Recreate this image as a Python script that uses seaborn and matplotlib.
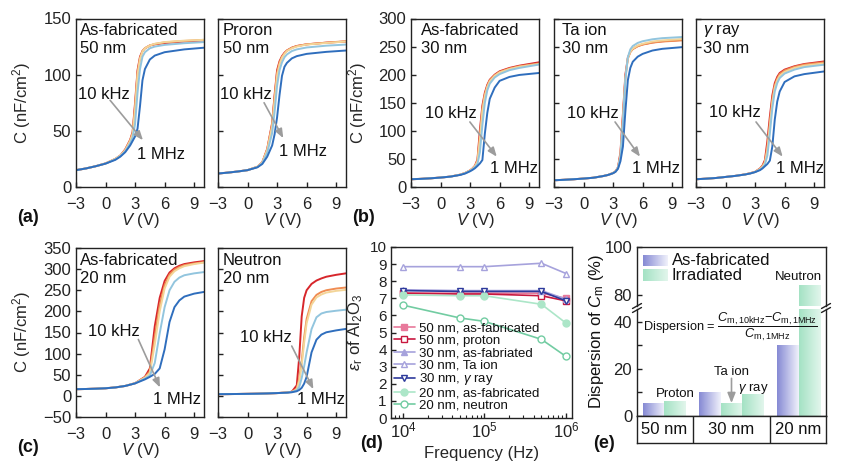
import numpy as np
import matplotlib
matplotlib.use("Agg")
import matplotlib.pyplot as plt
import seaborn as sns
from matplotlib.colors import LinearSegmentedColormap
from matplotlib.lines import Line2D

# ---------------- data ----------------
FREQ_LABELS = ['10 kHz', '50 kHz', '100 kHz', '500 kHz', '1 MHz']
CURVE_COLORS = ['#d7262b', '#f08c52', '#f3d598', '#92c5de', '#2f6ebd']

# (a) 50 nm
V_A = [-3, -2, -1, 0, 1, 1.5, 2, 2.5, 2.75, 3, 3.25, 3.5, 3.75, 4, 4.5, 5, 6, 8, 10]
A1_CURVES = {
    '10 kHz':  [15.0, 16.5, 18.5, 21.0, 25.0, 28.0, 33.5, 42.0, 49.0, 75.0, 104, 116, 121, 123.5, 126, 127, 128.2, 129.5, 130.5],
    '50 kHz':  [15.0, 16.5, 18.5, 21.0, 25.0, 28.0, 33.0, 41.5, 48.0, 72.0, 102, 115, 121, 123.5, 126, 127.3, 128.8, 130, 131],
    '100 kHz': [15.0, 16.5, 18.5, 21.0, 25.0, 28.0, 32.8, 41.0, 47.0, 69.0, 100, 114, 120.5, 123.5, 126, 127.5, 129, 130.3, 131],
    '500 kHz': [15.0, 16.5, 18.5, 20.9, 24.6, 27.5, 31.8, 39.0, 44.0, 56.0, 84, 105, 116, 120, 123.5, 125, 126.5, 128, 129],
    '1 MHz':   [15.0, 16.5, 18.5, 20.8, 24.2, 27.0, 31.0, 37.0, 41.0, 45.0, 52.0, 72.0, 95.0, 105, 113.5, 117, 120, 122.5, 124],
}
A2_CURVES = {
    '10 kHz':  [12.0, 12.8, 13.8, 15.0, 18.0, 22.0, 34.0, 57.0, 82.0, 104, 112, 116.5, 119.5, 121.5, 124, 125.5, 127, 128.5, 129.5],
    '50 kHz':  [12.0, 12.8, 13.8, 15.0, 18.0, 22.0, 33.5, 56.0, 80.0, 102, 111, 116, 119, 121.5, 124, 125.5, 127, 128.5, 129.8],
    '100 kHz': [12.0, 12.8, 13.8, 15.0, 18.0, 21.8, 33.0, 54.0, 77.0, 99, 109, 115, 118.5, 121, 123.5, 125, 126.8, 128.2, 129.5],
    '500 kHz': [12.0, 12.8, 13.8, 15.0, 17.8, 21.3, 30.5, 48.0, 67.0, 90, 104, 111, 115.5, 118, 121, 122.5, 124.2, 125.8, 126.8],
    '1 MHz':   [12.0, 12.8, 13.8, 15.0, 17.5, 20.5, 27.0, 37.0, 47.0, 62.0, 82.0, 99.0, 107, 110.5, 114.5, 116.5, 118.5, 120.3, 121.5],
}

# (b) 30 nm
V_B = [-3, -2, -1, 0, 1, 2, 2.5, 3, 3.25, 3.5, 3.75, 4, 4.25, 4.5, 4.75, 5, 5.5, 6, 7, 8, 10]
B1_CURVES = {
    '10 kHz':  [13.8, 14.5, 15.5, 16.8, 18.5, 22.0, 25.0, 29.5, 33.0, 38.0, 49.0, 102, 145, 168, 182, 191, 200, 206, 212, 216, 222],
    '50 kHz':  [13.8, 14.5, 15.5, 16.8, 18.5, 22.0, 25.0, 29.5, 33.0, 37.5, 47.0, 92, 140, 165, 180, 190, 199, 205, 211, 215, 220],
    '100 kHz': [13.8, 14.5, 15.5, 16.8, 18.5, 22.0, 25.0, 29.3, 32.5, 37.0, 45.0, 85, 135, 162, 178, 188, 198, 204, 210, 214, 219],
    '500 kHz': [13.8, 14.5, 15.5, 16.8, 18.5, 21.8, 24.6, 28.8, 31.8, 35.5, 41.0, 62, 110, 150, 172, 184, 195, 201, 208, 212, 218],
    '1 MHz':   [13.8, 14.5, 15.5, 16.8, 18.5, 21.5, 24.0, 28.0, 30.5, 33.5, 37.5, 42.0, 48.0, 95, 132, 157, 177, 189, 196, 199.5, 203],
}
B2_CURVES = {
    '10 kHz':  [12.0, 12.8, 13.8, 15.0, 16.5, 19.5, 21.5, 25.0, 28.0, 35.0, 62.0, 130, 200, 230, 241, 246, 251, 254, 257.5, 259.5, 262],
    '50 kHz':  [12.0, 12.8, 13.8, 15.0, 16.5, 19.5, 21.5, 25.0, 28.0, 34.5, 58.0, 124, 196, 229, 240, 245.5, 250.5, 253.5, 257, 259, 261],
    '100 kHz': [12.0, 12.8, 13.8, 15.0, 16.5, 19.5, 21.5, 25.0, 28.0, 34.0, 55.0, 118, 193, 229, 241, 246.5, 252, 255, 259, 261, 263.5],
    '500 kHz': [12.0, 12.8, 13.8, 15.0, 16.5, 19.5, 21.5, 24.8, 27.8, 34.0, 54.0, 115, 192, 231, 245, 251, 256.5, 259.5, 263, 265, 267],
    '1 MHz':   [12.0, 12.8, 13.8, 15.0, 16.5, 19.5, 21.5, 24.5, 27.0, 32.5, 46.0, 72.0, 135, 190, 212, 223, 232, 237, 243, 246, 249],
}
V_B3 = [-3, -2, -1, 0, 1, 2, 2.5, 3, 3.5, 3.75, 4, 4.25, 4.5, 4.75, 5, 5.25, 5.5, 6, 7, 8, 10]
B3_CURVES = {
    '10 kHz':  [13.8, 14.8, 16.0, 17.9, 19.8, 22.5, 24.5, 27.0, 33.0, 38.0, 48.0, 82.0, 125, 163, 185, 196, 203, 209, 215, 219, 223.5],
    '50 kHz':  [13.8, 14.8, 16.0, 17.9, 19.8, 22.5, 24.5, 27.0, 32.5, 37.0, 45.0, 72.0, 115, 156, 181, 193, 201, 207.5, 214, 218, 222],
    '100 kHz': [13.8, 14.8, 16.0, 17.9, 19.8, 22.4, 24.3, 26.8, 32.0, 36.0, 43.0, 66.0, 108, 150, 177, 190, 198, 205, 212, 216, 220],
    '500 kHz': [13.8, 14.8, 16.0, 17.9, 19.8, 22.4, 24.2, 26.6, 31.0, 34.5, 40.0, 56.0, 95, 140, 170, 185, 194, 202, 209, 213.5, 217.7],
    '1 MHz':   [13.8, 14.8, 16.0, 17.9, 19.8, 22.3, 24.0, 26.5, 30.0, 33.0, 37.0, 41.0, 47.0, 72.0, 120, 152, 170, 187, 197, 201, 205.7],
}

# (c) 20 nm
V_C1 = [-3, -2, -1, 0, 1, 2, 3, 4, 4.5, 5, 5.5, 6, 6.5, 7, 7.5, 8, 9, 10]
C1_CURVES = {
    '10 kHz':  [15.8, 16.3, 17.0, 18.0, 20.0, 23.5, 30.0, 45.0, 65.0, 165, 232, 272, 292, 302, 308, 312, 316, 319],
    '50 kHz':  [15.8, 16.3, 17.0, 18.0, 20.0, 23.5, 30.0, 44.0, 58.0, 140, 215, 262, 287, 299, 305, 309.5, 313.5, 316.5],
    '100 kHz': [15.8, 16.3, 17.0, 18.0, 20.0, 23.5, 30.0, 43.0, 54.0, 122, 200, 254, 282, 295, 302, 307, 312, 315.5],
    '500 kHz': [15.8, 16.3, 17.0, 18.0, 20.0, 23.5, 29.8, 41.0, 48.0, 78.0, 148, 210, 250, 270, 280, 285.5, 290, 293],
    '1 MHz':   [15.8, 16.3, 17.0, 18.0, 20.0, 23.5, 29.5, 39.0, 45.0, 52.0, 65.0, 110, 175, 210, 226, 235, 242, 246],
}
V_C2 = [-3, -2, -1, 0, 1, 2, 3, 4, 4.5, 5, 5.25, 5.5, 5.75, 6, 6.5, 7, 7.5, 8, 9, 10]
C2_CURVES = {
    '10 kHz':  [4.0, 4.2, 4.5, 4.8, 5.2, 5.8, 6.6, 8.0, 10.0, 25.0, 92.0, 188, 232, 250, 265, 273, 278, 282, 286.5, 290],
    '50 kHz':  [4.0, 4.2, 4.5, 4.8, 5.2, 5.8, 6.6, 8.0, 9.5, 17.0, 42.0, 82.0, 138, 182, 224, 239, 246, 250, 254, 256.5],
    '100 kHz': [4.0, 4.2, 4.5, 4.8, 5.2, 5.8, 6.6, 8.0, 9.3, 15.0, 35.0, 72.0, 126, 172, 216, 233, 240, 244.5, 248.5, 251],
    '500 kHz': [4.0, 4.2, 4.5, 4.8, 5.2, 5.8, 6.6, 7.8, 9.0, 13.0, 21.0, 42.0, 70.0, 103, 158, 186, 195, 198.5, 201.5, 204],
    '1 MHz':   [4.0, 4.2, 4.5, 4.8, 5.2, 5.8, 6.6, 7.6, 8.6, 11.0, 14.0, 19.0, 29.0, 45.0, 103, 133, 145, 150.5, 155, 158.5],
}

# (d) relative permittivity vs frequency
FREQ_HZ = [1e4, 5e4, 1e5, 5e5, 1e6]
ER_50_FAB = [7.3, 7.3, 7.3, 7.3, 7.0]
ER_50_PROTON = [7.3, 7.25, 7.25, 7.15, 6.85]
ER_30_FAB = [7.5, 7.45, 7.45, 7.45, 6.95]
ER_30_TA = [8.85, 8.85, 8.85, 9.05, 8.45]
ER_30_GAMMA = [7.45, 7.4, 7.4, 7.4, 6.85]
ER_20_FAB = [7.2, 7.15, 7.15, 6.65, 5.55]
ER_20_NEUTRON = [6.6, 5.85, 5.65, 4.6, 3.6]

# (e) dispersion
THICKNESS = ['50 nm', '30 nm', '20 nm']
BAR_GROUP = ['50 nm', '50 nm', '30 nm', '30 nm', '30 nm', '20 nm', '20 nm']
BAR_KIND = ['fab', 'irr', 'fab', 'irr', 'irr', 'fab', 'irr']
BAR_VALUE = [5.5, 6.3, 9.8, 5.2, 9.3, 30.0, 84.0]

# ---------------- style ----------------
sns.set_theme(style="ticks")
plt.rcParams['font.family'] = ['Liberation Sans', 'DejaVu Sans']
plt.rcParams['mathtext.fontset'] = 'custom'
plt.rcParams['mathtext.rm'] = 'Liberation Sans'
plt.rcParams['mathtext.it'] = 'Liberation Sans:italic'
plt.rcParams['mathtext.bf'] = 'Liberation Sans:bold'
plt.rcParams['font.size'] = 12
plt.rcParams['axes.linewidth'] = 1.0
plt.rcParams['axes.edgecolor'] = '#222222'
plt.rcParams['text.color'] = '#111111'
plt.rcParams['xtick.color'] = '#222222'
plt.rcParams['ytick.color'] = '#222222'

W, H = 850, 471
fig = plt.figure(figsize=(W / 100, H / 100), dpi=100)


def add_ax(x0, y0, x1, y1):
    return fig.add_axes([x0 / W, 1 - y1 / H, (x1 - x0) / W, (y1 - y0) / H])


def style_ticks(ax, size=12):
    ax.tick_params(direction='in', length=3.5, width=1.0, labelsize=size, pad=3.5)
    ax.tick_params(axis='x', pad=7)
    ax.tick_params(which='minor', direction='in', length=2, width=0.8)


ARROW = dict(arrowstyle='-|>,head_length=0.45,head_width=0.18', color='#9c9c9c',
             lw=1.2, shrinkA=0, shrinkB=0)


def draw_cv(ax, volts, curves, ylim, ystep, title, title_x, ann, ylabels):
    for lab, col in zip(FREQ_LABELS, CURVE_COLORS):
        sns.lineplot(x=volts, y=curves[lab], color=col, lw=1.4, ax=ax, legend=False)
    ax.set_xlim(-3, 10)
    ax.set_xticks([-3, 0, 3, 6, 9])
    ax.set_ylim(*ylim)
    ax.set_yticks(np.arange(ylim[0], ylim[1] + 1, ystep))
    style_ticks(ax)
    if not ylabels:
        ax.tick_params(axis='y', labelleft=False)
    ax.set_xlabel('$V$ (V)')
    ax.xaxis.set_label_coords(0.5, -0.196)
    ax.xaxis.label.set_va('center')
    ax.set_ylabel('')
    for line, yy in zip(title, (0.927, 0.822)):
        ax.text(title_x, yy, line, transform=ax.transAxes, ha='left', va='center', fontsize=12)
    ax.text(ann[0][0], ann[0][1], '10 kHz', transform=ax.transAxes, ha='left', va='center', fontsize=12)
    ax.text(ann[1][0], ann[1][1], '1 MHz', transform=ax.transAxes, ha='left', va='center', fontsize=12)
    ax.annotate('', xy=ann[3], xytext=ann[2], xycoords='axes fraction',
                textcoords='axes fraction', arrowprops=ARROW)


TOP = (18.5, 187)
BOT = (248, 417)
CV_YLABEL = 'C (nF/cm$^2$)'

# (a)
ax = add_ax(76, TOP[0], 204, TOP[1])
draw_cv(ax, V_A, A1_CURVES, (0, 150), 50, ('As-fabricated', '50 nm'), 0.031,
        [(0.016, 0.55), (0.48, 0.195), (0.266, 0.515), (0.523, 0.278)], True)
ax.set_ylabel(CV_YLABEL)
ax.yaxis.set_label_coords(-0.336, 0.5)
ax = add_ax(218, TOP[0], 346, TOP[1])
draw_cv(ax, V_A, A2_CURVES, (0, 150), 50, ('Proron', '50 nm'), 0.037,
        [(0.016, 0.55), (0.48, 0.21), (0.36, 0.5), (0.51, 0.29)], False)

# (b)
ax = add_ax(411, TOP[0], 539, TOP[1])
draw_cv(ax, V_B, B1_CURVES, (0, 300), 50, ('As-fabricated', '30 nm'), 0.076,
        [(0.11, 0.436), (0.617, 0.11), (0.46, 0.386), (0.67, 0.18)], True)
ax.set_ylabel(CV_YLABEL)
ax.yaxis.set_label_coords(-0.328, 0.5)
ax = add_ax(554, TOP[0], 682, TOP[1])
draw_cv(ax, V_B, B2_CURVES, (0, 300), 50, ('Ta ion', '30 nm'), 0.06,
        [(0.10, 0.436), (0.607, 0.11), (0.477, 0.386), (0.672, 0.18)], False)
ax = add_ax(696, TOP[0], 824, TOP[1])
draw_cv(ax, V_B3, B3_CURVES, (0, 300), 50, ('$\\gamma$ ray', '30 nm'), 0.057,
        [(0.104, 0.442), (0.625, 0.11), (0.469, 0.386), (0.677, 0.18)], False)

# (c)
ax = add_ax(76, BOT[0], 204, BOT[1])
draw_cv(ax, V_C1, C1_CURVES, (-50, 350), 50, ('As-fabricated', '20 nm'), 0.031,
        [(0.096, 0.508), (0.604, 0.106), (0.487, 0.459), (0.656, 0.175)], True)
ax.set_ylabel(CV_YLABEL)
ax.yaxis.set_label_coords(-0.336, 0.5)
ax = add_ax(218, BOT[0], 346, BOT[1])
draw_cv(ax, V_C2, C2_CURVES, (-50, 350), 50, ('Neutron', '20 nm'), 0.037,
        [(0.172, 0.469), (0.615, 0.106), (0.576, 0.42), (0.745, 0.165)], False)

# (d)
ax = add_ax(391, 247, 572, 418)
d_series = [
    ('50 nm, as-fabricated', ER_50_FAB, '#e8799b', 's', True),
    ('50 nm, proton', ER_50_PROTON, '#c8173f', 's', False),
    ('30 nm, as-fabriated', ER_30_FAB, '#a6a2dc', '^', True),
    ('30 nm, Ta ion', ER_30_TA, '#a6a2dc', '^', False),
    ('30 nm, $\\gamma$ ray', ER_30_GAMMA, '#2d3a9c', 'v', False),
    ('20 nm, as-fabricated', ER_20_FAB, '#ace6c8', 'o', True),
    ('20 nm, neutron', ER_20_NEUTRON, '#72cca2', 'o', False),
]
for lab, vals, col, mk, filled in d_series:
    sns.lineplot(x=FREQ_HZ, y=vals, color=col, marker=mk, markersize=5,
                 markerfacecolor=col if filled else 'white', markeredgecolor=col,
                 markeredgewidth=1.0, lw=1.2, label=lab, ax=ax)
ax.set_xscale('log')
ax.set_xlim(7130, 1.185e6)
ax.set_ylim(0, 10)
ax.set_yticks(range(0, 11))
style_ticks(ax)
ax.tick_params(axis='y', labelsize=11, pad=3)
ax.tick_params(axis='x', pad=2)
ax.set_xlabel('Frequency (Hz)')
ax.xaxis.set_label_coords(0.5, -0.205)
ax.xaxis.label.set_va('center')
ax.set_ylabel('$\\varepsilon_\\mathrm{r}$ of Al$_2$O$_3$')
ax.yaxis.set_label_coords(-0.144, 0.5)
ax.legend(loc='lower left', bbox_to_anchor=(0.0, 0.02), frameon=False, fontsize=9.5,
          labelspacing=0.0, handlelength=1.6, handletextpad=0.3, borderpad=0.2,
          borderaxespad=0.0)

# (e)
ax_t = add_ax(637, 247, 826, 306)
ax_b = add_ax(637, 309, 826, 416)
ax_tab = add_ax(637, 416, 826, 443)
YLIM_T = (75.4, 100)
YLIM_B = (0, 45.5)

# bar layout: bars of one thickness side by side, a gap between thicknesses
gap = 0.64
x_left = []
pos = 0.28
for i, g in enumerate(BAR_GROUP):
    if i > 0 and g != BAR_GROUP[i - 1]:
        pos += gap
    x_left.append(pos)
    pos += 1.0
XMAX = 8.84
grad = {'fab': ('#868ad4', '#f0f1fb'), 'irr': ('#a4e2c4', '#e2f6ec')}
grad_arr = np.linspace(0, 1, 64).reshape(1, -1)
for axe, (lo, hi) in ((ax_t, YLIM_T), (ax_b, YLIM_B)):
    bars = axe.bar(x_left, BAR_VALUE, width=1.0, align='edge', color='none', lw=0)
    for patch, kind in zip(bars.patches, BAR_KIND):
        cmap = LinearSegmentedColormap.from_list(kind, grad[kind])
        x, w, h = patch.get_x(), patch.get_width(), patch.get_height()
        if h <= lo:
            continue
        axe.imshow(grad_arr, cmap=cmap, extent=[x, x + w, lo, min(h, hi)], aspect='auto',
                   origin='lower', zorder=2)
    axe.set_xlim(0, XMAX)
    axe.set_ylim(lo, hi)
    axe.tick_params(axis='x', bottom=False, labelbottom=False)
    style_ticks(axe)
    axe.set_aspect('auto')

ax_t.set_yticks([80, 100])
ax_t.spines['bottom'].set_visible(False)
ax_b.set_yticks([0, 20, 40])
ax_b.set_yticks([10, 30], minor=True)
ax_b.spines['top'].set_visible(False)
ax_b.tick_params(which='minor', direction='in', length=3.5, width=1.0)

# legend with gradient swatches
for (y0, y1), kind, lab in [((0.683, 0.867), 'fab', 'As-fabricated'),
                            ((0.42, 0.617), 'irr', 'Irradiated')]:
    cmap = LinearSegmentedColormap.from_list(kind + 'L', grad[kind])
    ax_t.imshow(grad_arr, cmap=cmap, extent=[0.032, 0.164, y0, y1], aspect='auto',
                transform=ax_t.transAxes, zorder=3)
    ax_t.text(0.185, (y0 + y1) / 2, lab, transform=ax_t.transAxes, ha='left',
              va='center', fontsize=12)
ax_t.set_xlim(0, XMAX)
ax_t.set_ylim(*YLIM_T)
ax_b.set_xlim(0, XMAX)
ax_b.set_ylim(*YLIM_B)

centers = [x + 0.5 for x in x_left]
ax_b.text(centers[1], 9.4, 'Proton', ha='center', va='center', fontsize=9.5)
ax_b.text(centers[3], 18.7, 'Ta ion', ha='center', va='center', fontsize=9.5)
ax_b.annotate('', xy=(centers[3], BAR_VALUE[3] + 0.3), xytext=(centers[3], 16.0),
              arrowprops=dict(arrowstyle='-|>,head_length=0.5,head_width=0.2',
                              color='#9c9c9c', lw=1.2, shrinkA=0, shrinkB=0))
ax_b.text(centers[4], 11.6, '$\\gamma$ ray', ha='center', va='center', fontsize=9.5)
ax_t.text((x_left[5] + x_left[6] + 1) / 2, 87.5, 'Neutron', ha='center', va='center',
          fontsize=9.5, zorder=4)
ax_b.text(XMAX / 2 - 0.05, 37.9,
          'Dispersion = $\\dfrac{C_{\\mathrm{m,10kHz}}\\mathrm{-}C_{\\mathrm{m,1MHz}}}'
          '{C_{\\mathrm{m,1MHz}}}$', ha='center', va='center', fontsize=9.2, zorder=4)

# table under the bars
ax_tab.set_xlim(0, XMAX)
ax_tab.set_ylim(0, 1)
ax_tab.set_xticks([])
ax_tab.set_yticks([])
group_x = {}
for g, x in zip(BAR_GROUP, centers):
    group_x.setdefault(g, []).append(x)
for g in THICKNESS:
    ax_tab.text(np.mean(group_x[g]), 0.5, g, ha='center', va='center', fontsize=12)
firsts = [x_left[i] for i in range(1, len(BAR_GROUP)) if BAR_GROUP[i] != BAR_GROUP[i - 1]]
for xf in firsts:
    ax_tab.axvline(xf - gap / 2, color='#222222', lw=1.0)

# break marks
for xs in (637, 826):
    for dy in (0, 4):
        fig.add_artist(Line2D([(xs - 4.5) / W, (xs + 4.5) / W],
                              [1 - (308.5 + dy) / H, 1 - (303.5 + dy) / H],
                              transform=fig.transFigure, color='#222222', lw=1.0))

fig.text(597 / W, 1 - 331 / H, 'Dispersion of $C_\\mathrm{m}$ (%)', rotation=90,
         ha='center', va='center', fontsize=12)

# panel letters
for lab, x, y in [('(a)', 17, 218), ('(b)', 352, 218), ('(c)', 17, 448),
                  ('(d)', 360, 443), ('(e)', 593, 443)]:
    fig.text(x / W, 1 - y / H, lab, ha='left', va='center', fontsize=13, fontweight='bold')

fig.savefig('out.png', dpi=100)
